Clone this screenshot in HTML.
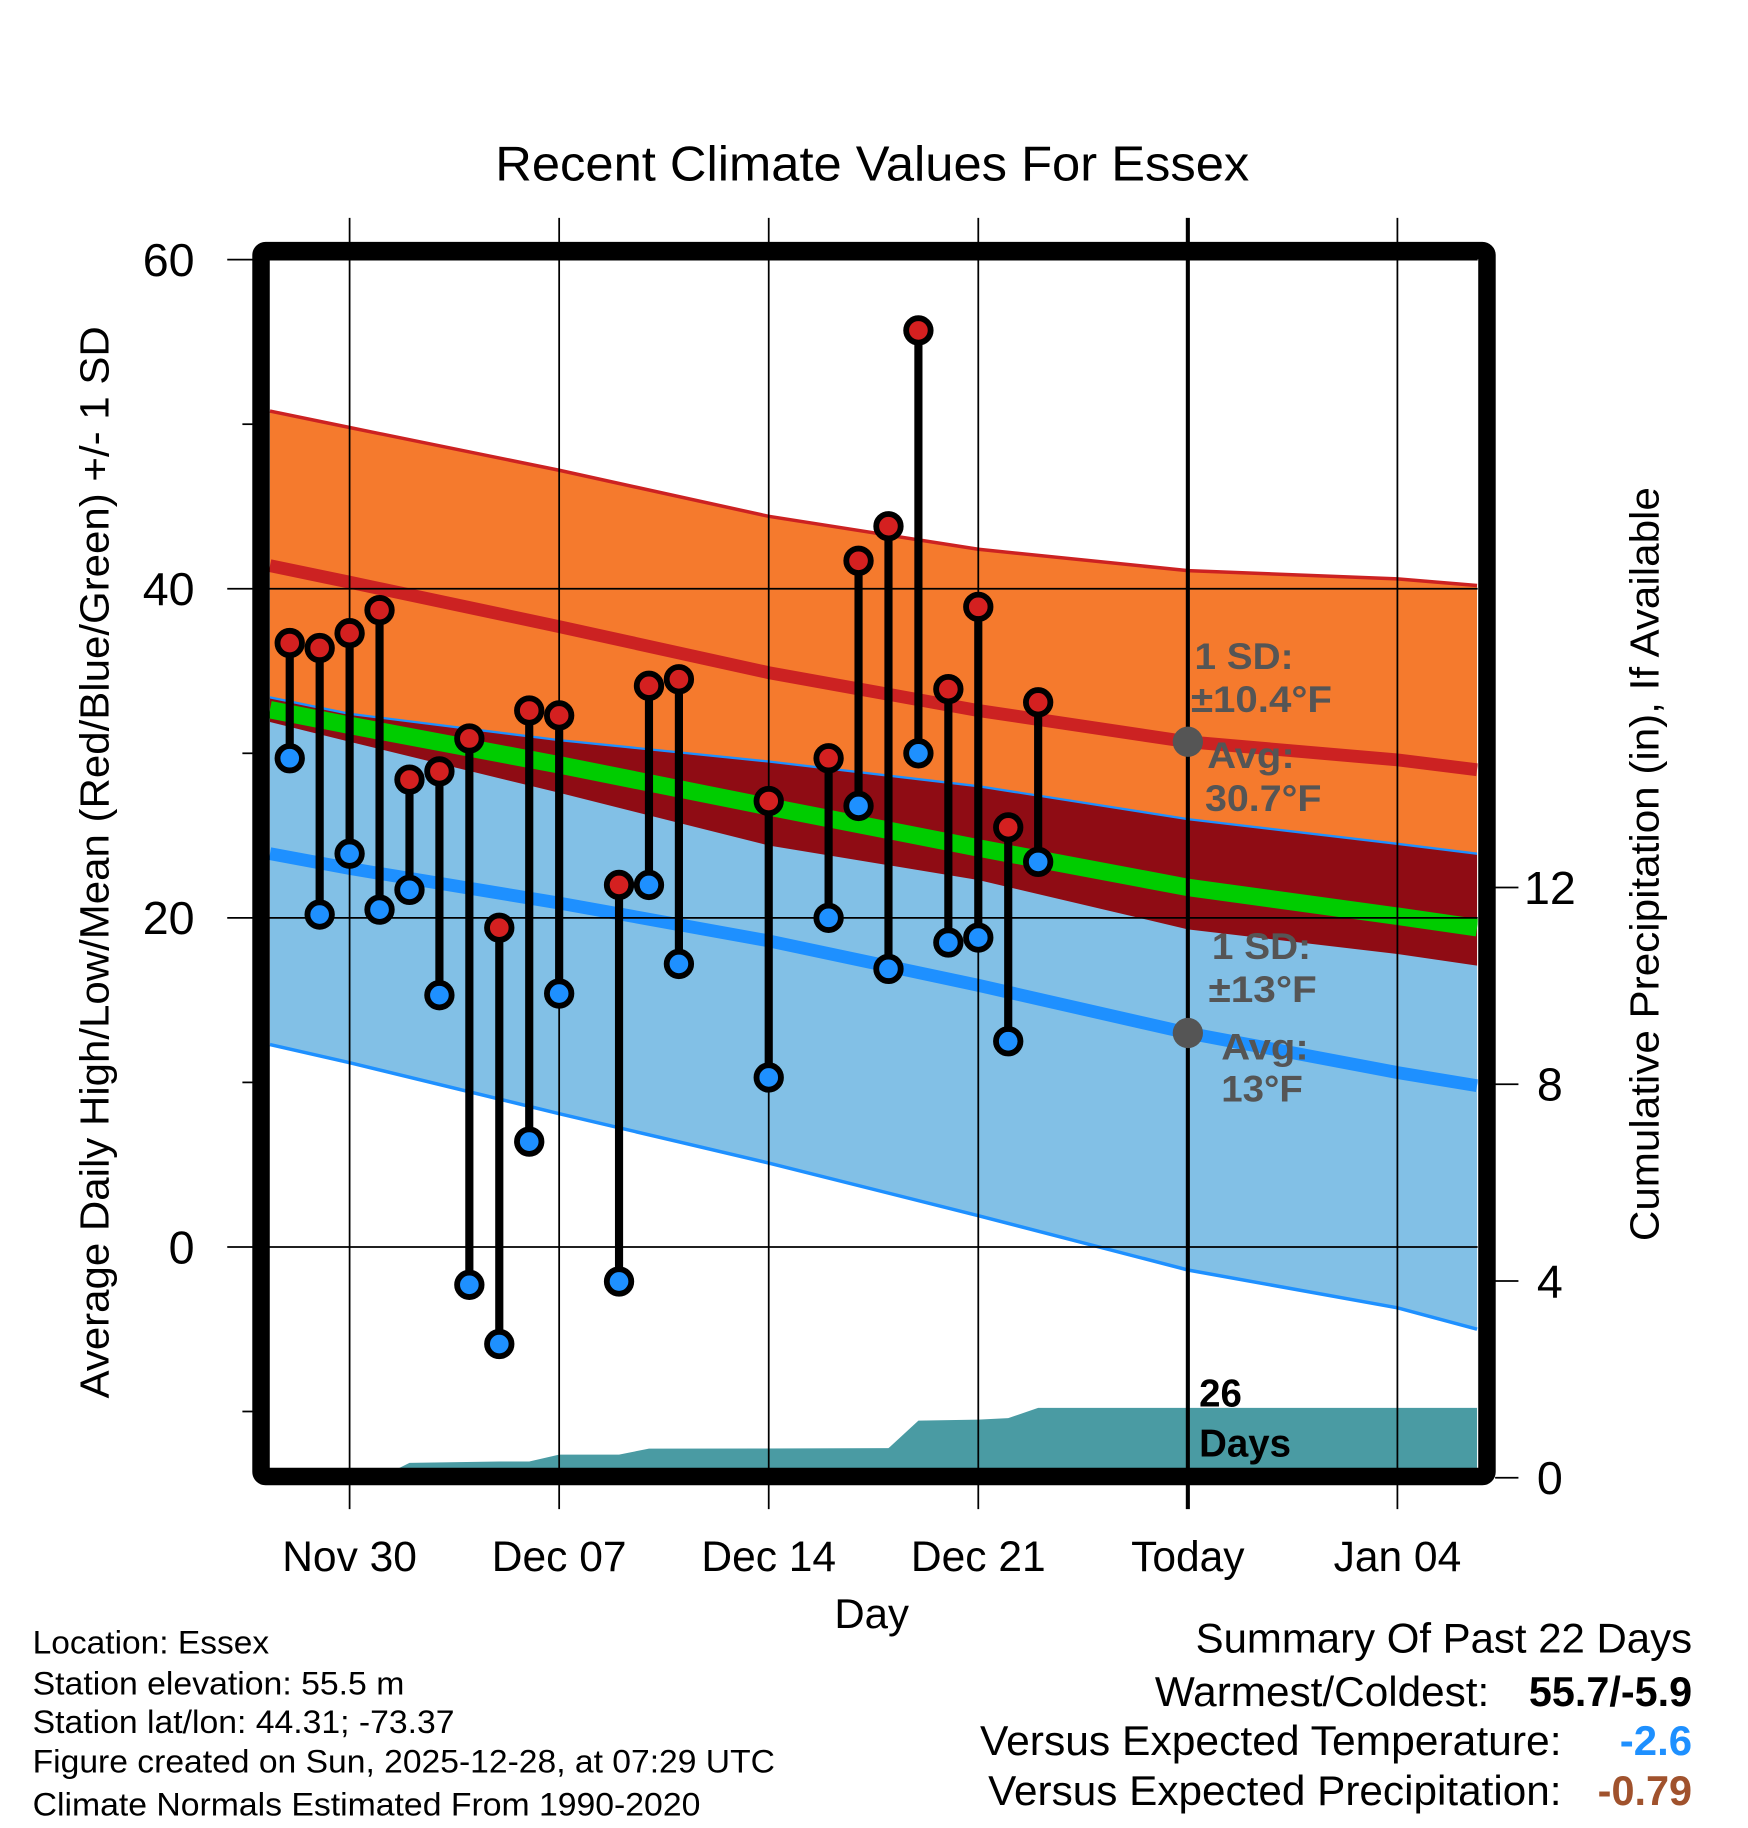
<!DOCTYPE html>
<html><head><meta charset="utf-8"><style>
html,body{margin:0;padding:0;background:#fff;}
svg{display:block;font-family:"Liberation Sans",Arial,sans-serif;}
</style></head><body>
<svg id="chart" width="1748" height="1828" viewBox="0 0 1500 1568.6" preserveAspectRatio="none" xmlns="http://www.w3.org/2000/svg">
<defs><clipPath id="plotclip"><rect x="231" y="222" width="1037" height="1038"/></clipPath></defs>
<text x="425" y="155" font-size="42" textLength="647" lengthAdjust="spacingAndGlyphs">Recent Climate Values For Essex</text>
<g id="bands" clip-path="url(#plotclip)"></g>
<g id="grid"></g>
<g id="marks"></g>
<g id="axes"></g>
<g id="notes"></g>
<text x="748" y="1397" font-size="36" text-anchor="middle">Day</text>
<text transform="translate(93,1200) rotate(-90)" font-size="35" textLength="920" lengthAdjust="spacingAndGlyphs">Average Daily High/Low/Mean (Red/Blue/Green) +/- 1 SD</text>
<text transform="translate(1423,1065) rotate(-90)" font-size="35" textLength="647" lengthAdjust="spacingAndGlyphs">Cumulative Precipitation (in), If Available</text>
<g font-size="28">
<text x="28" y="1419" textLength="203" lengthAdjust="spacingAndGlyphs">Location: Essex</text>
<text x="28" y="1454" textLength="319" lengthAdjust="spacingAndGlyphs">Station elevation: 55.5 m</text>
<text x="28" y="1487" textLength="362" lengthAdjust="spacingAndGlyphs">Station lat/lon: 44.31; -73.37</text>
<text x="28" y="1521" textLength="637" lengthAdjust="spacingAndGlyphs">Figure created on Sun, 2025-12-28, at 07:29 UTC</text>
<text x="28" y="1558" textLength="573" lengthAdjust="spacingAndGlyphs">Climate Normals Estimated From 1990-2020</text>
</g>
<g font-size="36">
<text x="1026" y="1418" textLength="426" lengthAdjust="spacingAndGlyphs">Summary Of Past 22 Days</text>
<text x="991" y="1464" textLength="287" lengthAdjust="spacingAndGlyphs">Warmest/Coldest:</text>
<text x="1312" y="1464" font-weight="bold" textLength="140" lengthAdjust="spacingAndGlyphs">55.7/-5.9</text>
<text x="841" y="1506" textLength="499" lengthAdjust="spacingAndGlyphs">Versus Expected Temperature:</text>
<text x="1390" y="1506" font-weight="bold" fill="#1e90ff" textLength="62" lengthAdjust="spacingAndGlyphs">-2.6</text>
<text x="848" y="1549" textLength="492" lengthAdjust="spacingAndGlyphs">Versus Expected Precipitation:</text>
<text x="1371" y="1549" font-weight="bold" fill="#a0522d" textLength="81" lengthAdjust="spacingAndGlyphs">-0.79</text>
</g>
</svg>
<script>
// day index: 0 = Nov 28
const normDays = [-0.66, 2, 9, 16, 23, 30, 37, 39.66];
const highUpper = [50.8, 49.8, 47.2, 44.4, 42.4, 41.1, 40.6, 40.2];
const highMean  = [41.4, 40.4, 37.7, 34.9, 32.6, 30.7, 29.6, 29.0];
const highLower = [31.9, 30.7, 27.6, 24.4, 22.3, 19.3, 17.8, 17.1];
const lowUpper  = [33.4, 32.4, 30.8, 29.5, 28.0, 26.0, 24.5, 23.9];
const lowMean   = [23.9, 23.0, 20.9, 18.6, 15.9, 13.0, 10.6, 9.8];
const lowLower  = [12.3, 11.2, 8.1, 5.1, 1.9, -1.4, -3.7, -5.0];
const obsDays = [0,1,2,3,4,5,6,7,8,9,11,12,13,16,18,19,20,21,22,23,24,25];
const obsHigh = [36.7,36.4,37.3,38.7,28.4,28.9,30.9,19.4,32.6,32.3,22.0,34.1,34.5,27.1,29.7,41.7,43.8,55.7,33.9,38.9,25.5,33.1];
const obsLow  = [29.7,20.2,23.9,20.5,21.7,15.3,-2.3,-5.9,6.4,15.4,-2.1,22.0,17.2,10.3,20.0,26.8,16.9,30.0,18.5,18.8,12.5,23.4];
const precipDays = [0,3,4,7,8,9,11,12,20,21,23,24,25,39.66];
const precipCum  = [0,0,0.30,0.33,0.33,0.47,0.47,0.59,0.60,1.16,1.18,1.21,1.42,1.42];
const xTickDays = [2,9,16,23,30,37];
const xTickLabels = ["Nov 30","Dec 07","Dec 14","Dec 21","Today","Jan 04"];
const yTicks = [60,40,20,0];
const yMinor = [50,30,10,-10];
const pTicks = [0,4,8,12];

const NS="http://www.w3.org/2000/svg";
const X = d => 300 + (d-2)*25.69;
const Y = t => 1070 - t*14.12;
const P = p => 1268 - p*42.2;
function mk(parent, tag, attrs){const e=document.createElementNS(NS,tag);for(const k in attrs)e.setAttribute(k,attrs[k]);document.getElementById(parent).appendChild(e);return e;}
function line(arr){return normDays.map((d,i)=>X(d)+","+Y(arr[i])).join(" ");}
function band(a,b){return normDays.map((d,i)=>X(d)+","+Y(a[i])).concat(normDays.slice().reverse().map((d,j)=>{const i=normDays.length-1-j;return X(d)+","+Y(b[i]);})).join(" ");}

let e;
e=mk("bands","polygon",{points:band(highUpper,highLower),fill:"#f57a2d"});


e=mk("bands","polygon",{points:band(lowUpper,lowLower),fill:"#82c0e6"});


e=mk("bands","polygon",{points:band(lowUpper,highLower),fill:"#8f0c14"});


const mid = highMean.map((v,i)=>(v+lowMean[i])/2);
e=mk("bands","polyline",{points:line(mid),fill:"none",stroke:"#00cc00","stroke-width":15});


e=mk("bands","polyline",{points:line(highUpper),fill:"none",stroke:"#cc2222","stroke-width":3});


e=mk("bands","polyline",{points:line(highMean),fill:"none",stroke:"#cc2222","stroke-width":11});


e=mk("bands","polyline",{points:line(lowUpper),fill:"none",stroke:"#1e90ff","stroke-width":2});


e=mk("bands","polyline",{points:line(lowLower),fill:"none",stroke:"#1e90ff","stroke-width":3});


e=mk("bands","polyline",{points:line(lowMean),fill:"none",stroke:"#1e90ff","stroke-width":11});


let pp = precipDays.map((d,i)=>X(d)+","+P(precipCum[i]));
pp.push(X(precipDays[precipDays.length-1])+",1262", X(precipDays[0])+",1262");
e=mk("bands","polygon",{points:pp.join(" "),fill:"#4a9ba3"});



yTicks.forEach(t=>{
  e=mk("grid","line",{x1:195,x2:1268,y1:Y(t),y2:Y(t),stroke:"#000","stroke-width":1.5});
  
  
  e=mk("grid","text",{x:167,y:Y(t)+14,"font-size":40,"text-anchor":"end"});
  e.textContent=t;
  
  
});
yMinor.forEach(t=>{
  e=mk("grid","line",{x1:208,x2:220,y1:Y(t),y2:Y(t),stroke:"#000","stroke-width":1.5});
  
  
});
xTickDays.forEach((d,i)=>{
  const today = xTickLabels[i]==="Today";
  e=mk("grid","line",{x1:X(d),x2:X(d),y1:187,y2:1295,stroke:"#000","stroke-width":today?3.5:1.5});
  
  
  e=mk("grid","text",{x:X(d),y:1348,"font-size":36.5,"text-anchor":"middle"});
  e.textContent=xTickLabels[i];
  
  
});
pTicks.forEach(p=>{
  e=mk("grid","line",{x1:1283,x2:1303,y1:P(p),y2:P(p),stroke:"#000","stroke-width":1.5});
  
  
  e=mk("grid","text",{x:1330,y:P(p)+14,"font-size":40,"text-anchor":"middle"});
  e.textContent=p;
  
  
});

obsDays.forEach((d,i)=>{
  e=mk("marks","line",{x1:X(d),x2:X(d),y1:Y(obsHigh[i]),y2:Y(obsLow[i]),stroke:"#000","stroke-width":7});
  
  
  e=mk("marks","circle",{cx:X(d),cy:Y(obsHigh[i]),r:10.5,fill:"#d42020",stroke:"#000","stroke-width":5});
  
  
  e=mk("marks","circle",{cx:X(d),cy:Y(obsLow[i]),r:10.5,fill:"#1e90ff",stroke:"#000","stroke-width":5});
  
  
});

e=mk("axes","rect",{x:224,y:215,width:1052,height:1052,fill:"none",stroke:"#000","stroke-width":15,rx:4});



const tx = X(30);
e=mk("notes","circle",{cx:tx,cy:Y(highMean[5]),r:13,fill:"#555"});


e=mk("notes","circle",{cx:tx,cy:Y(lowMean[5]),r:13,fill:"#555"});


const notes=[["1 SD:",1025,574,85],["±10.4°F",1022,611,121],["Avg:",1036,659,75],["30.7°F",1034,696,100],["1 SD:",1040,823,85],["±13°F",1037,860,93],["Avg:",1048,909,75],["13°F",1048,945,70]];
notes.forEach(n=>{
  e=mk("notes","text",{x:n[1],y:n[2],"font-size":32,"font-weight":"bold",fill:"#555",textLength:n[3],lengthAdjust:"spacingAndGlyphs"});
  e.textContent=n[0];
  
  
});
[["26",1207],["Days",1250]].forEach(n=>{
  e=mk("notes","text",{x:1029,y:n[1],"font-size":33,"font-weight":"bold",fill:"#000"});
  e.textContent=n[0];
  
  
});
</script>
</body></html>
